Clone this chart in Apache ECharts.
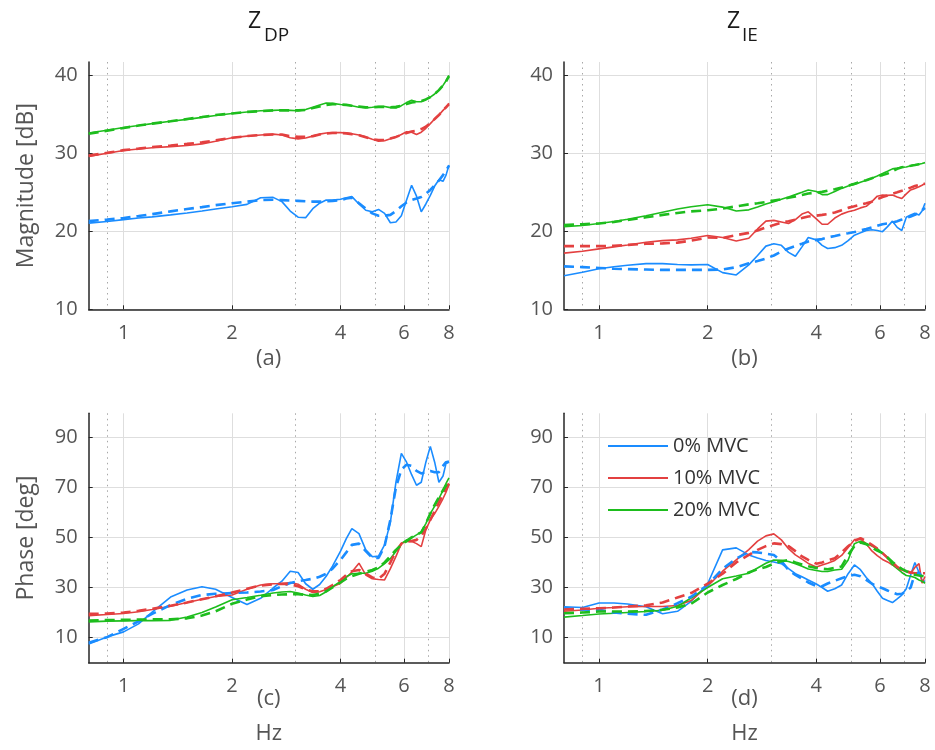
<!DOCTYPE html>
<html>
<head>
<meta charset="utf-8">
<script src="https://cdn.jsdelivr.net/npm/echarts@6/dist/echarts.min.js"></script>
<style>
  html, body { margin: 0; padding: 0; background: #fff; }
  #chart { width: 935px; height: 750px; }
</style>
</head>
<body>
<div id="chart"></div>
<script>
// frequency grid (Hz), shared by every curve
const freq = [
  0.8, 0.9, 1.0, 1.1, 1.2, 1.35, 1.5, 1.65, 1.8, 2.0, 2.2, 2.4,
  2.6, 2.75, 2.9, 3.05, 3.2, 3.35, 3.5, 3.65, 3.8, 4.0, 4.15, 4.3,
  4.5, 4.7, 4.9, 5.1, 5.3, 5.5, 5.7, 5.9, 6.1, 6.3, 6.5, 6.7,
  6.9, 7.1, 7.3, 7.5, 7.7, 7.85, 8.0
];

const levels = ['0% MVC', '10% MVC', '20% MVC'];
const xMajorTicks = [1, 2, 4, 6, 8];
const xMinorTicks = [0.9, 3, 5, 7];
const magTicks = [10, 20, 30, 40];
const phaseTicks = [10, 30, 50, 70, 90];

// (a) Z_DP magnitude [dB] : measured / model
const magDP0 = [
  21.05, 21.25, 21.5, 21.7, 21.85, 22.1, 22.35, 22.6, 22.85, 23.15, 23.45, 24.3,
  24.35, 23.8, 22.6, 21.8, 21.75, 22.9, 23.6, 24.0, 24.0, 24.1, 24.3, 24.45,
  23.5, 22.7, 22.5, 22.8, 22.3, 21.1, 21.2, 22.0, 24.0, 25.9, 24.5, 22.5,
  23.5, 24.6, 25.8, 26.6, 26.4, 27.2, 28.5
];
const magDP0fit = [
  21.3, 21.5, 21.7, 21.95, 22.2, 22.55, 22.85, 23.1, 23.35, 23.6, 23.8, 24.0,
  24.05, 24.0, 23.95, 23.9, 23.85, 23.8, 23.8, 23.85, 23.9, 24.0, 24.2, 24.3,
  23.6, 22.9, 22.3, 22.0, 22.0, 22.1, 22.6, 23.2, 23.7, 24.0, 24.2, 24.4,
  24.8, 25.3, 25.9, 26.5, 27.2, 27.8, 28.4
];
const magDP10 = [
  29.6, 30.0, 30.35, 30.55, 30.7, 30.85, 31.0, 31.2, 31.55, 32.0, 32.2, 32.35,
  32.45, 32.35, 32.0, 31.85, 31.95, 32.2, 32.45, 32.6, 32.65, 32.65, 32.6, 32.5,
  32.35, 32.1, 31.8, 31.55, 31.6, 31.85, 32.1, 32.4, 32.75, 32.7, 32.4, 32.7,
  33.2, 33.8, 34.4, 34.9, 35.5, 35.9, 36.4
];
const magDP10fit = [
  29.7, 30.05, 30.4, 30.6, 30.8, 31.0, 31.2, 31.4, 31.65, 32.0, 32.2, 32.35,
  32.4, 32.4, 32.2, 32.1, 32.1, 32.2, 32.4, 32.55, 32.6, 32.6, 32.55, 32.45,
  32.3, 32.05, 31.8, 31.7, 31.7, 31.9, 32.1, 32.35, 32.6, 32.8, 32.9, 33.1,
  33.4, 33.9, 34.4, 34.9, 35.5, 35.9, 36.3
];
const magDP20 = [
  32.6, 32.95, 33.3, 33.55, 33.8, 34.1, 34.35, 34.6, 34.85, 35.1, 35.3, 35.45,
  35.5, 35.55, 35.5, 35.45, 35.6, 35.9, 36.2, 36.45, 36.4, 36.25, 36.2, 36.1,
  35.9, 35.8, 35.9, 36.0, 36.0, 35.85, 35.8, 36.1, 36.5, 36.8, 36.6, 36.6,
  36.9, 37.2, 37.6, 38.1, 38.7, 39.3, 40.0
];
const magDP20fit = [
  32.5, 32.9, 33.25, 33.55, 33.8, 34.1, 34.4, 34.65, 34.9, 35.1, 35.3, 35.4,
  35.5, 35.5, 35.5, 35.5, 35.55, 35.8, 36.0, 36.2, 36.3, 36.25, 36.2, 36.1,
  36.0, 35.9, 35.9, 35.95, 35.95, 35.9, 35.95, 36.1, 36.3, 36.5, 36.6, 36.7,
  36.9, 37.2, 37.6, 38.1, 38.7, 39.2, 39.9
];

// (b) Z_IE magnitude [dB]
const magIE0 = [
  14.3, 14.75, 15.2, 15.45, 15.65, 15.85, 15.85, 15.75, 15.7, 15.75, 14.7, 14.4,
  15.7, 16.9, 18.1, 18.4, 18.2, 17.3, 16.8, 18.0, 19.2, 18.9, 18.2, 17.8,
  17.9, 18.2, 18.8, 19.5, 19.8, 20.1, 20.2, 20.1, 19.95, 20.6, 21.3, 20.5,
  20.1, 21.8, 22.1, 22.3, 22.1, 22.6, 23.6
];
const magIE0fit = [
  15.5, 15.4, 15.3, 15.2, 15.15, 15.1, 15.05, 15.05, 15.05, 15.05, 15.1, 15.4,
  15.9, 16.2, 16.5, 16.9, 17.4, 17.8, 18.1, 18.4, 18.7, 18.9, 19.0, 19.2,
  19.4, 19.6, 19.75, 19.9, 20.1, 20.3, 20.5, 20.7, 20.9, 21.0, 21.1, 21.3,
  21.5, 21.7, 21.9, 22.1, 22.4, 22.7, 23.0
];
const magIE10 = [
  17.2, 17.45, 17.75, 18.0, 18.25, 18.6, 18.8, 18.9, 19.1, 19.45, 19.2, 18.75,
  19.1, 20.3, 21.3, 21.4, 21.2, 21.0, 21.5, 22.2, 22.5, 21.6, 20.9, 20.9,
  21.7, 22.2, 22.5, 22.7, 23.0, 23.2, 23.8, 24.5, 24.65, 24.6, 24.65, 24.4,
  24.2, 24.8, 25.3, 25.5, 25.7, 25.9, 26.15
];
const magIE10fit = [
  18.1, 18.1, 18.1, 18.15, 18.25, 18.4, 18.45, 18.55, 18.8, 19.2, 19.15, 19.5,
  19.8, 20.1, 20.5, 20.8, 21.1, 21.3, 21.5, 21.7, 21.9, 22.0, 22.1, 22.2,
  22.4, 22.7, 23.0, 23.2, 23.4, 23.6, 23.8, 24.1, 24.4, 24.6, 24.8, 25.0,
  25.2, 25.4, 25.6, 25.8, 25.95, 26.05, 26.1
];
const magIE20 = [
  20.6, 20.75, 21.0, 21.25, 21.55, 22.0, 22.45, 22.85, 23.15, 23.4, 23.1, 22.6,
  22.75, 23.1, 23.5, 23.8, 24.1, 24.4, 24.7, 25.0, 25.3, 25.1, 24.7, 24.7,
  25.1, 25.5, 25.8, 26.0, 26.3, 26.55, 26.8, 27.1, 27.4, 27.7, 28.0, 28.1,
  28.2, 28.25, 28.4, 28.5, 28.6, 28.7, 28.8
];
const magIE20fit = [
  20.8, 20.9, 21.0, 21.2, 21.45, 21.8, 22.1, 22.35, 22.55, 22.7, 22.9, 23.2,
  23.45, 23.6, 23.75, 23.95, 24.1, 24.3, 24.45, 24.65, 24.85, 24.95, 25.05, 25.2,
  25.4, 25.6, 25.85, 26.1, 26.35, 26.55, 26.8, 27.05, 27.2, 27.4, 27.7, 28.0,
  28.2, 28.3, 28.4, 28.5, 28.6, 28.65, 28.7
];

// (c) Z_DP phase [deg]
const phDP0 = [
  7.5, 10.3, 12.3, 15.5, 20.2, 26.2, 29.0, 30.3, 29.3, 26.0, 23.2, 25.7,
  29.8, 32.5, 36.5, 36.0, 31.5, 29.3, 31.2, 34.5, 38.5, 44.5, 49.5, 53.5,
  51.5, 45.0, 42.3, 42.5, 47.0, 56.0, 72.0, 83.5, 80.0, 75.0, 70.8, 72.0,
  80.0, 86.3, 80.0, 72.0, 74.5, 79.5, 80.0
];
const phDP0fit = [
  8.0, 10.2, 13.5, 16.5, 19.5, 23.0, 25.5, 27.0, 27.5, 27.8, 28.0, 28.4,
  29.0, 30.5, 31.8, 32.5, 33.0, 33.5, 34.3, 35.5, 37.5, 41.0, 44.0, 47.0,
  47.5, 44.5, 41.8, 41.8, 46.5, 57.0, 70.0, 77.0, 79.0, 78.5, 76.5, 75.5,
  76.0, 76.5, 76.0, 76.0, 78.5, 80.0, 80.3
];
const phDP10 = [
  18.8, 19.2, 19.6, 20.3, 21.2, 22.5, 24.0, 25.3, 26.4, 27.0, 29.3, 31.0,
  31.5, 31.6, 32.0, 31.3, 29.3, 28.0, 28.3, 29.2, 30.3, 31.7, 34.0, 36.2,
  39.7, 35.0, 33.5, 33.2, 33.0, 37.5, 42.4, 47.5, 48.4, 48.4, 47.5, 46.3,
  53.0, 57.0, 59.5, 62.4, 65.5, 68.0, 71.1
];
const phDP10fit = [
  19.5, 19.6, 20.0, 20.7, 21.5, 22.7, 24.0, 25.3, 26.5, 28.0, 29.5, 30.8,
  31.3, 31.5, 31.3, 30.5, 29.3, 28.5, 28.5, 29.5, 31.0, 33.0, 35.0, 36.5,
  37.0, 35.5, 34.0, 33.5, 35.5, 40.0, 44.5, 47.5, 48.5, 48.5, 49.0, 50.5,
  53.5, 57.0, 60.5, 64.0, 67.0, 69.5, 71.5
];
const phDP20 = [
  16.3, 16.6, 16.7, 16.8, 16.8, 16.9, 18.2, 20.0, 22.2, 25.1, 26.0, 26.9,
  27.8, 28.2, 28.4, 27.8, 27.0, 26.4, 26.8, 28.3, 30.3, 32.4, 34.3, 35.5,
  35.7, 35.7, 36.5, 37.7, 39.5, 41.5, 44.5, 47.5, 49.0, 49.8, 51.0, 52.2,
  55.5, 59.5, 62.5, 65.5, 68.8, 71.5, 73.7
];
const phDP20fit = [
  16.8, 17.0, 17.1, 17.2, 17.3, 17.3, 17.7, 18.8, 20.5, 23.5, 25.2, 26.5,
  27.0, 27.2, 27.3, 27.3, 27.1, 27.0, 27.5, 28.5, 30.0, 32.0, 33.5, 34.5,
  35.5, 36.3, 37.0, 38.0, 40.0, 42.5, 45.0, 47.0, 48.5, 50.0, 51.0, 52.0,
  55.5, 59.5, 63.0, 66.0, 68.8, 70.8, 72.5
];

// (d) Z_IE phase [deg]
const phIE0 = [
  22.3, 22.0, 23.8, 23.8, 23.4, 22.3, 19.5, 20.5, 24.5, 31.5, 45.0, 45.8,
  43.0, 41.8, 40.8, 40.2, 39.5, 37.5, 35.5, 34.3, 33.0, 31.4, 30.0, 28.5,
  29.5, 31.0, 35.5, 39.0, 37.1, 34.0, 31.7, 28.5, 25.7, 24.8, 24.0, 25.5,
  27.0, 29.5, 35.0, 40.0, 36.0, 33.0, 32.4
];
const phIE0fit = [
  21.8, 21.2, 21.1, 20.0, 19.5, 19.1, 21.2, 23.7, 26.3, 31.0, 37.5, 41.5,
  44.2, 44.0, 43.5, 43.0, 40.5, 37.0, 35.0, 33.5, 32.0, 30.6, 30.5, 31.6,
  32.7, 33.7, 34.5, 35.1, 34.5, 33.0, 31.5, 30.5, 29.7, 28.8, 28.0, 27.3,
  27.5, 28.5, 30.0, 35.5, 36.0, 34.0, 33.1
];
const phIE10 = [
  20.5, 21.0, 21.7, 22.0, 22.3, 22.4, 22.4, 22.8, 24.8, 30.5, 36.5, 41.0,
  45.1, 48.5, 50.6, 51.4, 49.0, 45.5, 43.0, 41.3, 39.6, 38.2, 39.0, 39.7,
  40.8, 42.8, 46.0, 49.1, 49.3, 47.5, 44.6, 42.7, 41.2, 40.2, 39.0, 37.8,
  37.0, 36.3, 35.7, 38.0, 39.5, 31.7, 34.4
];
const phIE10fit = [
  21.2, 21.5, 21.7, 22.0, 22.4, 22.9, 24.0, 26.0, 27.8, 31.5, 35.5, 40.0,
  43.0, 45.0, 46.5, 47.6, 47.3, 46.5, 44.5, 42.4, 41.0, 39.5, 40.0, 40.8,
  41.7, 44.0, 46.5, 48.5, 49.7, 48.5, 47.0, 45.5, 43.7, 41.8, 40.0, 38.2,
  37.1, 36.5, 36.0, 35.7, 35.7, 35.7, 35.7
];
const phIE20 = [
  18.2, 18.8, 19.4, 19.7, 20.0, 20.4, 20.9, 22.5, 25.8, 30.0, 33.5, 34.6,
  35.7, 37.8, 39.7, 41.0, 40.9, 40.4, 39.5, 38.5, 37.4, 36.8, 36.4, 36.4,
  37.0, 37.3, 41.0, 47.5, 48.5, 47.6, 46.5, 45.5, 43.7, 42.0, 39.1, 37.5,
  36.0, 34.8, 34.5, 34.0, 33.0, 32.5, 31.7
];
const phIE20fit = [
  19.7, 20.0, 20.4, 20.4, 20.4, 20.6, 21.1, 22.0, 23.5, 28.0, 31.0, 33.4,
  36.0, 37.3, 38.2, 39.5, 40.5, 41.0, 40.0, 39.2, 38.5, 37.8, 37.5, 37.3,
  37.8, 38.4, 43.0, 46.5, 48.0, 47.3, 46.0, 44.7, 43.7, 42.0, 40.2, 38.6,
  37.4, 36.5, 35.8, 35.1, 34.8, 34.6, 34.4
];

const colors = ['#1a8cff', '#e34040', '#1dbd1d'];
const font = "'Open Sans', 'DejaVu Sans', sans-serif";
const axisDark = '#262626';
const textGray = '#555';

const panels = [
  { left: 88.7, top: 62, width: 360.3, height: 247.3, ymin: 10, ymax: 41.7, ticks: magTicks, name: 'Magnitude [dB]',
    meas: [magDP0, magDP10, magDP20], fit: [magDP0fit, magDP10fit, magDP20fit] },
  { left: 564, top: 62, width: 361, height: 247.3, ymin: 10, ymax: 41.7, ticks: magTicks, name: '',
    meas: [magIE0, magIE10, magIE20], fit: [magIE0fit, magIE10fit, magIE20fit] },
  { left: 88.7, top: 413.3, width: 360.3, height: 249.4, ymin: 0, ymax: 99.5, ticks: phaseTicks, name: 'Phase [deg]',
    meas: [phDP0, phDP10, phDP20], fit: [phDP0fit, phDP10fit, phDP20fit] },
  { left: 564, top: 413.3, width: 361, height: 249.4, ymin: 0, ymax: 99.5, ticks: phaseTicks, name: '',
    meas: [phIE0, phIE10, phIE20], fit: [phIE0fit, phIE10fit, phIE20fit] }
];

const lg = v => Math.log10(v);
const xMin = lg(0.8), xMax = lg(8);

const grid = [], xAxis = [], yAxis = [], series = [];
panels.forEach((p, g) => {
  grid.push({ left: p.left, top: p.top, width: p.width, height: p.height, outerBoundsMode: 'none' });
  xAxis.push({
    type: 'value', gridIndex: g, min: xMin, max: xMax, position: 'bottom',
    axisLine: { show: true, onZero: false, lineStyle: { color: axisDark, width: 1.5 } },
    axisTick: { show: true, inside: true, length: 4, customValues: xMajorTicks.map(lg), lineStyle: { color: axisDark } },
    axisLabel: {
      customValues: xMajorTicks.map(lg), margin: 14, fontSize: 20, color: textGray, fontFamily: font,
      formatter: v => String(Math.round(Math.pow(10, v)))
    },
    splitLine: { show: true, lineStyle: { color: '#dedede', width: 1 } }
  });
  xAxis.push({
    type: 'value', gridIndex: g, min: xMin, max: xMax, position: 'top',
    axisLine: { show: false }, axisLabel: { show: false },
    axisTick: { show: false, customValues: xMinorTicks.map(lg) },
    splitLine: { show: true, lineStyle: { color: '#a8a8a8', width: 1, type: [1.5, 4] } }
  });
  yAxis.push({
    type: 'value', gridIndex: g, min: p.ymin, max: p.ymax,
    axisLine: { show: true, onZero: false, lineStyle: { color: axisDark, width: 1.5 } },
    axisTick: { show: true, inside: true, length: 4, customValues: p.ticks, lineStyle: { color: axisDark } },
    axisLabel: { customValues: p.ticks, margin: 11, fontSize: 20, color: textGray, fontFamily: font },
    splitLine: { show: true, lineStyle: { color: '#dedede', width: 1 } },
    name: p.name, nameLocation: 'middle', nameGap: 51,
    nameTextStyle: { fontSize: 23, color: textGray, fontFamily: font }
  });
  p.meas.forEach((vals, k) => {
    series.push({
      type: 'line', name: levels[k], xAxisIndex: 2 * g, yAxisIndex: g,
      data: freq.map((f, i) => [lg(f), vals[i]]),
      symbol: 'none', lineStyle: { color: colors[k], width: 1.6 }, itemStyle: { color: colors[k] }
    });
  });
  p.fit.forEach((vals, k) => {
    series.push({
      type: 'line', name: 'fit ' + levels[k], xAxisIndex: 2 * g, yAxisIndex: g,
      data: freq.map((f, i) => [lg(f), vals[i]]),
      symbol: 'none', lineStyle: { color: colors[k], width: 2.6, type: [10, 6] }, itemStyle: { color: colors[k] }
    });
  });
});

const lbl = (text, left, top, size, color) => ({
  text, left, top, textAlign: 'center', padding: 0,
  textStyle: { fontSize: size, fontWeight: 'normal', color, fontFamily: font }
});

const chart = echarts.init(document.getElementById('chart'));
chart.setOption({
  animation: false,
  textStyle: { fontFamily: font },
  title: [
    { text: 'Z', left: 248, top: 9.5, padding: 0, textStyle: { fontSize: 23, fontWeight: 'normal', color: '#1a1a1a', fontFamily: font } },
    { text: 'DP', left: 264, top: 26, padding: 0, textStyle: { fontSize: 19, fontWeight: 'normal', color: '#1a1a1a', fontFamily: font } },
    { text: 'Z', left: 727, top: 9.5, padding: 0, textStyle: { fontSize: 23, fontWeight: 'normal', color: '#1a1a1a', fontFamily: font } },
    { text: 'IE', left: 742, top: 26, padding: 0, textStyle: { fontSize: 19, fontWeight: 'normal', color: '#1a1a1a', fontFamily: font } },
    lbl('(a)', 268.7, 348, 22, textGray),
    lbl('(b)', 744.5, 348, 22, textGray),
    lbl('(c)', 268.7, 688, 22, textGray),
    lbl('(d)', 744.5, 688, 22, textGray),
    lbl('Hz', 268.7, 723, 22, textGray),
    lbl('Hz', 744.5, 723, 22, textGray)
  ],
  legend: {
    data: levels, orient: 'vertical', left: 608, top: 436, padding: 0,
    icon: 'rect', itemWidth: 60, itemHeight: 2, itemGap: 12, selectedMode: false,
    textStyle: { fontSize: 20, color: '#333', fontFamily: font }
  },
  grid, xAxis, yAxis, series
});
</script>
</body>
</html>
